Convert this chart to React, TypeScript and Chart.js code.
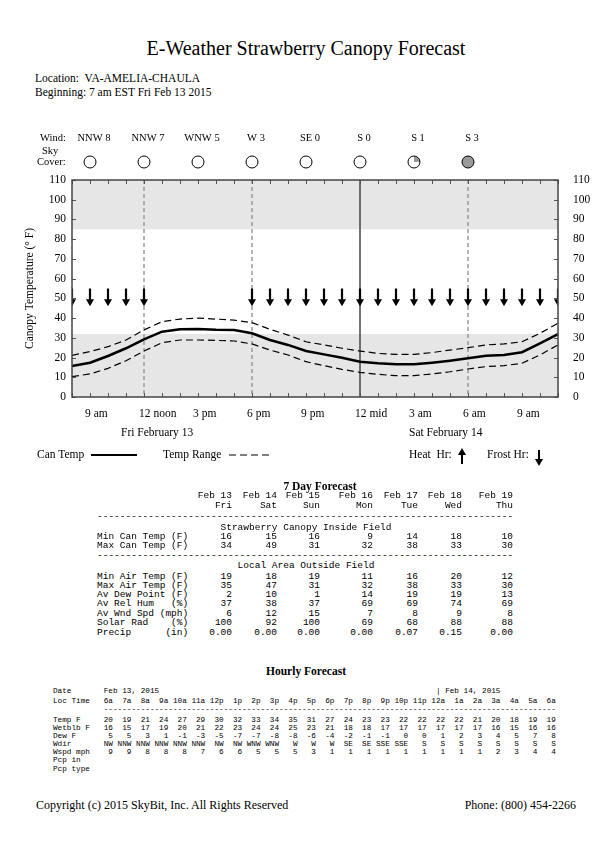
import React, { useEffect, useRef } from 'react';
import { Chart, registerables } from 'chart.js';

Chart.register(...registerables);

// ---------- Chart data ----------
const hourLabels = [
  'Fri 8 am', 'Fri 9 am', 'Fri 10 am', 'Fri 11 am', 'Fri 12 noon', 'Fri 1 pm', 'Fri 2 pm',
  'Fri 3 pm', 'Fri 4 pm', 'Fri 5 pm', 'Fri 6 pm', 'Fri 7 pm', 'Fri 8 pm', 'Fri 9 pm',
  'Fri 10 pm', 'Fri 11 pm', 'Sat 12 mid', 'Sat 1 am', 'Sat 2 am', 'Sat 3 am', 'Sat 4 am',
  'Sat 5 am', 'Sat 6 am', 'Sat 7 am', 'Sat 8 am', 'Sat 9 am', 'Sat 10 am', 'Sat 11 am',
];
const xTickLabels = [
  '', '9 am', '', '', '12 noon', '', '', '3 pm', '', '', '6 pm', '', '', '9 pm',
  '', '', '12 mid', '', '', '3 am', '', '', '6 am', '', '', '9 am', '', '',
];
const canTemp = [
  15.7, 17.4, 20.8, 24.7, 29.2, 33.1, 34.3, 34.5, 34.1, 34.0, 32.3, 28.9, 26.4, 23.3,
  21.6, 19.9, 17.9, 17.1, 16.6, 16.6, 17.4, 18.4, 19.6, 20.9, 21.3, 22.7, 27.2, 31.9,
];
const rangeHigh = [
  21.1, 23.0, 25.5, 28.9, 34.0, 38.2, 39.5, 40.0, 39.5, 39.0, 37.7, 34.3, 31.4, 28.0,
  26.4, 24.7, 23.3, 22.1, 21.6, 21.6, 22.5, 23.8, 25.0, 26.4, 26.9, 28.0, 32.3, 37.4,
];
const rangeLow = [
  10.3, 11.7, 14.5, 18.4, 23.3, 27.5, 28.9, 28.9, 28.7, 28.4, 26.9, 23.8, 21.3, 17.9,
  15.9, 14.0, 12.5, 11.5, 10.8, 10.8, 11.7, 12.8, 14.2, 15.4, 15.9, 17.1, 21.3, 26.4,
];
const frostHour = [1, 1, 1, 1, 1, 0, 0, 0, 0, 0, 1, 1, 1, 1, 1, 1, 1, 1, 1, 1, 1, 1, 1, 1, 1, 1, 1, 1];
const heatHour = [0, 0, 0, 0, 0, 0, 0, 0, 0, 0, 0, 0, 0, 0, 0, 0, 0, 0, 0, 0, 0, 0, 0, 0, 0, 0, 0, 0];
const arrowTop = 55;
const arrowTip = 46;
const yTicks = [0, 10, 20, 30, 40, 50, 60, 70, 80, 90, 100, 110];
const bandLow = [0, 85];
const bandHigh = [32, 110];
const dashedHours = ['Fri 12 noon', 'Fri 6 pm', 'Sat 6 am'];
const solidHours = ['Sat 12 mid'];
const windHours = ['Fri 9 am', 'Fri 12 noon', 'Fri 3 pm', 'Fri 6 pm', 'Fri 9 pm', 'Sat 12 mid', 'Sat 3 am', 'Sat 6 am'];
const windLabels = ['NNW 8', 'NNW 7', 'WNW 5', 'W 3', 'SE 0', 'S 0', 'S 1', 'S 3'];
const skyCover = [0, 0, 0, 0, 0, 0, 0.25, 1];
const dayLabels = ['Fri February 13', 'Sat February 14'];
const dayLabelHours = ['Fri 11 am', 'Sat 3 am'];

// ---------- 7 day table ----------
const dayDates = ['Feb 13', 'Feb 14', 'Feb 15', 'Feb 16', 'Feb 17', 'Feb 18', 'Feb 19'];
const dayNames = ['Fri', 'Sat', 'Sun', 'Mon', 'Tue', 'Wed', 'Thu'];
const minCanTemp = ['16', '15', '16', '9', '14', '18', '10'];
const maxCanTemp = ['34', '49', '31', '32', '38', '33', '30'];
const minAirTemp = ['19', '18', '19', '11', '16', '20', '12'];
const maxAirTemp = ['35', '47', '31', '32', '38', '33', '30'];
const avDewPoint = ['2', '10', '1', '14', '19', '19', '13'];
const avRelHum = ['37', '38', '37', '69', '69', '74', '69'];
const avWndSpd = ['6', '12', '15', '7', '8', '9', '8'];
const solarRad = ['100', '92', '100', '69', '68', '88', '88'];
const precip = ['0.00', '0.00', '0.00', '0.00', '0.07', '0.15', '0.00'];

// ---------- Hourly table ----------
const hourlyTimes = ['6a', '7a', '8a', '9a', '10a', '11a', '12p', '1p', '2p', '3p', '4p', '5p', '6p', '7p', '8p', '9p', '10p', '11p', '12a', '1a', '2a', '3a', '4a', '5a', '6a'];
const hourlyTemp = [20, 19, 21, 24, 27, 29, 30, 32, 33, 34, 35, 31, 27, 24, 23, 23, 22, 22, 22, 22, 21, 20, 18, 19, 19];
const hourlyWetblb = [16, 15, 17, 19, 20, 21, 22, 23, 24, 24, 25, 23, 21, 18, 18, 17, 17, 17, 17, 17, 17, 16, 15, 16, 16];
const hourlyDew = [5, 5, 3, 1, -1, -3, -5, -7, -7, -8, -8, -6, -4, -2, -1, -1, 0, 0, 1, 2, 3, 4, 5, 7, 8];
const hourlyWdir = ['NW', 'NNW', 'NNW', 'NNW', 'NNW', 'NNW', 'NW', 'NW', 'WNW', 'WNW', 'W', 'W', 'W', 'SE', 'SE', 'SSE', 'SSE', 'S', 'S', 'S', 'S', 'S', 'S', 'S', 'S'];
const hourlyWspd = [9, 9, 8, 8, 8, 7, 6, 6, 5, 5, 5, 3, 1, 1, 1, 1, 1, 1, 1, 1, 1, 2, 3, 4, 4];

const SERIF = '"Liberation Serif", "Times New Roman", serif';
const MONO = '"Liberation Mono", "Courier New", monospace';

const idx = (h: string) => hourLabels.indexOf(h);

const pagePlugin = {
  id: 'pagePlugin',
  beforeDatasetsDraw(chart: any) {
    const { ctx, chartArea: a, scales } = chart;
    const x = scales.x;
    const y = scales.y;
    ctx.save();
    ctx.fillStyle = '#e6e6e6';
    bandLow.forEach((lo, i) => {
      const yt = y.getPixelForValue(bandHigh[i]);
      const yb = y.getPixelForValue(lo);
      ctx.fillRect(a.left, yt, a.right - a.left, yb - yt);
    });
    ctx.strokeStyle = '#9a9a9a';
    ctx.lineWidth = 1.5;
    ctx.setLineDash([4, 3]);
    dashedHours.forEach((h) => {
      const px = Math.round(x.getPixelForValue(idx(h)));
      ctx.beginPath();
      ctx.moveTo(px, a.top);
      ctx.lineTo(px, a.bottom);
      ctx.stroke();
    });
    ctx.setLineDash([]);
    ctx.strokeStyle = '#444';
    solidHours.forEach((h) => {
      const px = Math.round(x.getPixelForValue(idx(h)));
      ctx.beginPath();
      ctx.moveTo(px, a.top);
      ctx.lineTo(px, a.bottom);
      ctx.stroke();
    });
    ctx.restore();
  },
  afterDatasetsDraw(chart: any) {
    const { ctx, chartArea: a, scales } = chart;
    const x = scales.x;
    const y = scales.y;
    ctx.save();
    ctx.beginPath();
    ctx.rect(a.left, a.top, a.right - a.left, a.bottom - a.top);
    ctx.clip();
    ctx.fillStyle = '#000';
    ctx.strokeStyle = '#000';
    const yT = y.getPixelForValue(arrowTop);
    const yB = y.getPixelForValue(arrowTip);
    hourLabels.forEach((_, i) => {
      const px = x.getPixelForValue(i);
      if (frostHour[i]) {
        ctx.lineWidth = 2.2;
        ctx.beginPath();
        ctx.moveTo(px, yT);
        ctx.lineTo(px, yB - 5);
        ctx.stroke();
        ctx.beginPath();
        ctx.moveTo(px - 4, yB - 7);
        ctx.lineTo(px + 4, yB - 7);
        ctx.lineTo(px, yB);
        ctx.closePath();
        ctx.fill();
      }
      if (heatHour[i]) {
        ctx.lineWidth = 2.2;
        ctx.beginPath();
        ctx.moveTo(px, yB);
        ctx.lineTo(px, yT + 5);
        ctx.stroke();
        ctx.beginPath();
        ctx.moveTo(px - 4, yT + 7);
        ctx.lineTo(px + 4, yT + 7);
        ctx.lineTo(px, yT);
        ctx.closePath();
        ctx.fill();
      }
    });
    ctx.restore();

    ctx.save();
    ctx.strokeStyle = '#555';
    ctx.lineWidth = 1;
    ctx.beginPath();
    hourLabels.forEach((_, i) => {
      const px = Math.round(x.getPixelForValue(i)) + 0.5;
      ctx.moveTo(px, a.top);
      ctx.lineTo(px, a.top + 4);
      ctx.moveTo(px, a.bottom);
      ctx.lineTo(px, a.bottom - 4);
    });
    yTicks.forEach((v) => {
      const py = Math.round(y.getPixelForValue(v)) + 0.5;
      ctx.moveTo(a.left, py);
      ctx.lineTo(a.left + 4, py);
      ctx.moveTo(a.right, py);
      ctx.lineTo(a.right - 4, py);
    });
    ctx.stroke();
    ctx.lineWidth = 1.5;
    ctx.strokeStyle = '#444';
    ctx.strokeRect(a.left, a.top, a.right - a.left, a.bottom - a.top);
    ctx.restore();
  },
  afterDraw(chart: any) {
    const { ctx, chartArea: a, scales } = chart;
    const x = scales.x;
    ctx.save();
    ctx.fillStyle = '#000';
    ctx.font = `10.5px ${SERIF}`;
    ctx.textBaseline = 'alphabetic';
    ctx.textAlign = 'left';
    ctx.fillText('Wind:', 40, 26);
    ctx.fillText('Sky', 42, 39);
    ctx.fillText('Cover:', 37, 50);
    ctx.textAlign = 'center';
    windHours.forEach((h, i) => {
      const px = x.getPixelForValue(idx(h));
      ctx.fillText(windLabels[i], px + 4, 26);
      const cy = 47;
      const r = 6;
      ctx.beginPath();
      ctx.arc(px, cy, r, 0, Math.PI * 2);
      ctx.fillStyle = '#fff';
      ctx.fill();
      if (skyCover[i] > 0) {
        ctx.beginPath();
        ctx.moveTo(px, cy);
        ctx.arc(px, cy, r, -Math.PI / 2, -Math.PI / 2 + Math.PI * 2 * skyCover[i]);
        ctx.closePath();
        ctx.fillStyle = '#999';
        ctx.fill();
      }
      ctx.beginPath();
      ctx.arc(px, cy, r, 0, Math.PI * 2);
      ctx.strokeStyle = '#000';
      ctx.lineWidth = 1;
      ctx.stroke();
      ctx.fillStyle = '#000';
    });
    ctx.font = `11.5px ${SERIF}`;
    ctx.textAlign = 'left';
    dayLabels.forEach((t, i) => {
      const px = x.getPixelForValue(idx(dayLabelHours[i]));
      ctx.fillText(t, px - 5, a.bottom + 39);
    });
    ctx.restore();
  },
};

// ---------- helpers ----------
type TProps = {
  x: number;
  cy: number;
  size: number;
  align?: 'left' | 'center' | 'right';
  bold?: boolean;
  mono?: boolean;
  children: React.ReactNode;
};

function T({ x, cy, size, align = 'left', bold, mono, children }: TProps) {
  const style: React.CSSProperties = {
    position: 'absolute',
    top: cy - size / 2,
    fontSize: size,
    lineHeight: `${size}px`,
    fontFamily: mono ? MONO : SERIF,
    fontWeight: bold ? 'bold' : 'normal',
    whiteSpace: 'pre',
    color: '#000',
  };
  if (align === 'left') style.left = x;
  else if (align === 'right') style.right = 612 - x;
  else {
    style.left = x - 300;
    style.width = 600;
    style.textAlign = 'center';
  }
  return <div style={style}>{children}</div>;
}

const colRight = [232, 277, 320, 373, 418, 462, 513];
const dayRows: { label: string; cy: number; vals: string[] }[] = [
  { label: 'Min Can Temp (F)', cy: 537, vals: minCanTemp },
  { label: 'Max Can Temp (F)', cy: 546, vals: maxCanTemp },
  { label: 'Min Air Temp (F)', cy: 577, vals: minAirTemp },
  { label: 'Max Air Temp (F)', cy: 586, vals: maxAirTemp },
  { label: 'Av Dew Point (F)', cy: 595, vals: avDewPoint },
  { label: 'Av Rel Hum   (%)', cy: 604, vals: avRelHum },
  { label: 'Av Wnd Spd (mph)', cy: 614, vals: avWndSpd },
  { label: 'Solar Rad    (%)', cy: 623, vals: solarRad },
  { label: 'Precip      (in)', cy: 633, vals: precip },
];

const hRow = (label: string, vals: (string | number)[]) =>
  label.padEnd(9) + vals.map((v) => String(v).padStart(4)).join('');
const hourlyLines: { cy: number; text: string }[] = [
  { cy: 692, text: ('Date'.padEnd(11) + 'Feb 13, 2015').padEnd(83) + '| Feb 14, 2015' },
  { cy: 702, text: hRow('Loc Time', hourlyTimes) },
  { cy: 710, text: ' '.repeat(11) + '-'.repeat(98) },
  { cy: 721, text: hRow('Temp F', hourlyTemp) },
  { cy: 729, text: hRow('Wetblb F', hourlyWetblb) },
  { cy: 737, text: hRow('Dew F', hourlyDew) },
  { cy: 745, text: hRow('Wdir', hourlyWdir) },
  { cy: 753, text: hRow('Wspd mph', hourlyWspd) },
  { cy: 761, text: 'Pcp in' },
  { cy: 770, text: 'Pcp type' },
];

export default function App() {
  const ref = useRef<HTMLCanvasElement>(null);

  useEffect(() => {
    if (!ref.current) return;
    const font = { family: SERIF, size: 11.5 };
    const chart = new Chart(ref.current, {
      type: 'line',
      data: {
        labels: hourLabels,
        datasets: [
          { label: 'Temp Range High', data: rangeHigh, borderColor: '#000', borderWidth: 1.2, borderDash: [7, 4], pointRadius: 0, tension: 0, fill: false },
          { label: 'Temp Range Low', data: rangeLow, borderColor: '#000', borderWidth: 1.2, borderDash: [7, 4], pointRadius: 0, tension: 0, fill: false },
          { label: 'Can Temp', data: canTemp, borderColor: '#000', borderWidth: 2.5, pointRadius: 0, tension: 0, fill: false },
        ],
      },
      options: {
        animation: false,
        responsive: true,
        maintainAspectRatio: false,
        layout: { padding: { top: 65, left: 0, right: 0, bottom: 0 } },
        plugins: { legend: { display: false }, tooltip: { enabled: false }, title: { display: false } },
        scales: {
          x: {
            type: 'category',
            offset: false,
            grid: { display: false, drawTicks: false },
            border: { display: false },
            ticks: {
              autoSkip: false,
              maxRotation: 0,
              minRotation: 0,
              align: 'start',
              labelOffset: -5,
              padding: 10,
              color: '#000',
              font,
              callback: (_v: any, i: number) => xTickLabels[i],
            },
            afterFit: (s: any) => { s.height = 58; },
          },
          y: {
            position: 'left',
            min: 0,
            max: 110,
            grid: { display: false, drawTicks: false },
            border: { display: false },
            ticks: { stepSize: 10, padding: 6, color: '#000', font },
            title: {
              display: true,
              text: 'Canopy Temperature (° F)',
              color: '#000',
              font: { family: SERIF, size: 11.5 },
              padding: { top: 23, bottom: 0 },
            },
            afterFit: (s: any) => { s.width = 72; },
          },
          y2: {
            position: 'right',
            min: 0,
            max: 110,
            grid: { display: false, drawTicks: false },
            border: { display: false },
            ticks: { stepSize: 10, padding: 15, color: '#000', font },
            afterFit: (s: any) => { s.width = 54; },
          },
        },
      } as any,
      plugins: [pagePlugin],
    });
    return () => chart.destroy();
  }, []);

  return (
    <div
      style={{
        position: 'absolute',
        left: 0,
        top: 0,
        width: 612,
        height: 864,
        background: '#fff',
        overflow: 'hidden',
        fontFamily: SERIF,
        color: '#000',
      }}
    >
      <T x={306} cy={48} size={20} align="center">E-Weather Strawberry Canopy Forecast</T>
      <T x={35} cy={79} size={11.5}>{'Location:  VA-AMELIA-CHAULA'}</T>
      <T x={35} cy={93} size={11.5}>{'Beginning: 7 am EST Fri Feb 13 2015'}</T>

      <div style={{ position: 'absolute', left: 0, top: 115, width: 612, height: 340 }}>
        <canvas ref={ref} />
      </div>

      {/* legend */}
      <T x={37} cy={455} size={11.5}>Can Temp</T>
      <T x={163} cy={455} size={11.5}>Temp Range</T>
      <T x={409} cy={455} size={11.5}>{'Heat  Hr:'}</T>
      <T x={487} cy={455} size={11.5}>{'Frost Hr:'}</T>
      <svg style={{ position: 'absolute', left: 0, top: 440 }} width={612} height={35}>
        <line x1={91} y1={15} x2={137} y2={15} stroke="#000" strokeWidth={2} />
        <line x1={229} y1={15} x2={273} y2={15} stroke="#000" strokeWidth={1} strokeDasharray="7 4" />
        <line x1={462} y1={24} x2={462} y2={14} stroke="#000" strokeWidth={2} />
        <polygon points="458,15 466,15 462,8" fill="#000" />
        <line x1={539} y1={10} x2={539} y2={20} stroke="#000" strokeWidth={2} />
        <polygon points="535,19 543,19 539,26" fill="#000" />
      </svg>

      {/* 7 day table */}
      <T x={320} cy={487} size={11.5} align="center" bold>7 Day Forecast</T>
      {dayDates.map((d, i) => (
        <T key={'d' + i} x={colRight[i]} cy={496} size={9.5} mono align="right">{d}</T>
      ))}
      {dayNames.map((d, i) => (
        <T key={'n' + i} x={colRight[i]} cy={506} size={9.5} mono align="right">{d}</T>
      ))}
      <T x={97} cy={517} size={9.5} mono>{'-'.repeat(73)}</T>
      <T x={306} cy={528} size={9.5} mono align="center">Strawberry Canopy Inside Field</T>
      <T x={97} cy={556} size={9.5} mono>{'-'.repeat(73)}</T>
      <T x={306} cy={566} size={9.5} mono align="center">Local Area Outside Field</T>
      {dayRows.map((r, ri) => (
        <React.Fragment key={'r' + ri}>
          <T x={97} cy={r.cy} size={9.5} mono>{r.label}</T>
          {r.vals.map((v, i) => (
            <T key={i} x={colRight[i]} cy={r.cy} size={9.5} mono align="right">{v}</T>
          ))}
        </React.Fragment>
      ))}

      {/* hourly table */}
      <T x={306} cy={672} size={11.5} align="center" bold>Hourly Forecast</T>
      {hourlyLines.map((l, i) => (
        <T key={'h' + i} x={53} cy={l.cy} size={7.7} mono>{l.text}</T>
      ))}

      {/* footer */}
      <T x={36} cy={805} size={12}>Copyright (c) 2015 SkyBit, Inc. All Rights Reserved</T>
      <T x={576} cy={805} size={12} align="right">Phone: (800) 454-2266</T>
    </div>
  );
}
